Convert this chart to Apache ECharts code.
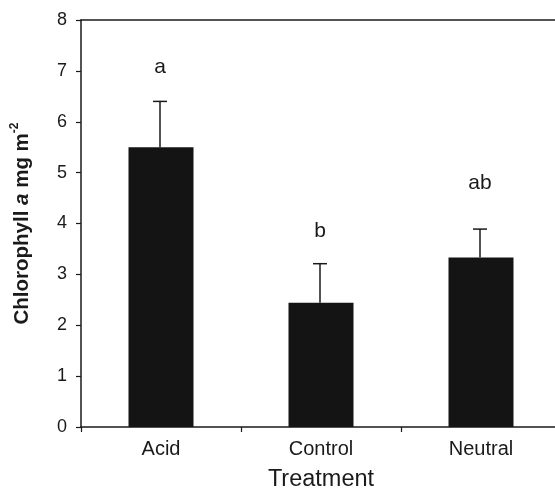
<!DOCTYPE html>
<html>
<head>
<meta charset="utf-8">
<script src="https://cdn.jsdelivr.net/npm/echarts@6/dist/echarts.min.js"></script>
<style>
  html, body { margin: 0; padding: 0; background: #fff; }
  #chart { width: 555px; height: 490px; }
</style>
</head>
<body>
<div id="chart"></div>
<script>
// data
const treatments = ["Acid", "Control", "Neutral"];
const chlMeans = [5.5, 2.44, 3.33];
const chlErrUpper = [6.4, 3.21, 3.89];
const groupLetters = ["a", "b", "ab"];
const letterLevels = [7.07, 3.85, 4.79];
const yTicks = [0, 1, 2, 3, 4, 5, 6, 7, 8];

const FONT = "Liberation Sans, Arial, Helvetica, sans-serif";
const INK = "#1a1a1a";

const chart = echarts.init(document.getElementById("chart"));

const option = {
  animation: false,
  backgroundColor: "#fff",
  grid: {
    left: 81, top: 20, width: 480, height: 407,
    containLabel: false,
    outerBoundsMode: "none", // keep the plot box exactly where it is in the figure
  },
  xAxis: [
    {
      type: "category",
      data: treatments,
      boundaryGap: true,
      axisLine: { lineStyle: { color: INK, width: 1.5 } },
      axisTick: { show: true, length: 5, inside: false, lineStyle: { color: INK, width: 1.2 } },
      axisLabel: { color: INK, fontSize: 20, fontFamily: FONT, margin: 12 },
      name: "Treatment",
      nameLocation: "middle",
      nameGap: 41,
      nameTextStyle: { color: INK, fontSize: 23.5, fontFamily: FONT },
      splitLine: { show: false },
    },
    {
      // top frame line
      type: "category",
      position: "top",
      data: treatments,
      axisLine: { lineStyle: { color: INK, width: 1.5 } },
      axisTick: { show: false },
      axisLabel: { show: false },
    },
  ],
  yAxis: {
    type: "value",
    min: yTicks[0],
    max: yTicks[yTicks.length - 1],
    interval: 1,
    axisLine: { show: true, lineStyle: { color: INK, width: 1.5 } },
    axisTick: { show: true, length: 5, lineStyle: { color: INK, width: 1.2 } },
    axisLabel: { color: INK, fontSize: 18, fontFamily: FONT, margin: 14 },
    splitLine: { show: false },
    name: "{b|Chlorophyll }{i|a}{b| mg m}{sup|-2}",
    nameLocation: "middle",
    nameGap: 46,
    nameRotate: 90,
    nameTextStyle: {
      rich: {
        b: { fontSize: 20.5, fontWeight: "bold", fontFamily: FONT, color: INK, lineHeight: 26 },
        i: { fontSize: 20.5, fontWeight: "bold", fontStyle: "italic", fontFamily: FONT, color: INK, lineHeight: 26 },
        sup: { fontSize: 12, fontWeight: "bold", fontFamily: FONT, color: INK, verticalAlign: "top", lineHeight: 14 },
      },
    },
  },
  series: [
    {
      type: "bar",
      data: chlMeans,
      barWidth: 65,
      itemStyle: { color: "#141414" },
      silent: true,
      z: 2,
    },
    {
      // error bars (upper only) and significance letters
      type: "custom",
      data: chlMeans.map((m, i) => [i, m, chlErrUpper[i], letterLevels[i]]),
      renderItem: function (params, api) {
        const i = api.value(0);
        const base = api.coord([i, api.value(1)]);
        const top = api.coord([i, api.value(2)]);
        const lab = api.coord([i, api.value(3)]);
        const cap = 7;
        return {
          type: "group",
          children: [
            {
              type: "line",
              shape: { x1: top[0] - 1, y1: base[1], x2: top[0] - 1, y2: top[1] },
              style: { stroke: INK, lineWidth: 1.5 },
            },
            {
              type: "line",
              shape: { x1: top[0] - 1 - cap, y1: top[1], x2: top[0] - 1 + cap, y2: top[1] },
              style: { stroke: INK, lineWidth: 1.5 },
            },
            {
              type: "text",
              style: {
                text: groupLetters[i],
                x: lab[0] - 1,
                y: lab[1],
                align: "center",
                verticalAlign: "middle",
                fontSize: 21,
                fontFamily: FONT,
                fill: INK,
              },
            },
          ],
        };
      },
      z: 3,
    },
  ],
};

chart.setOption(option);
</script>
</body>
</html>
